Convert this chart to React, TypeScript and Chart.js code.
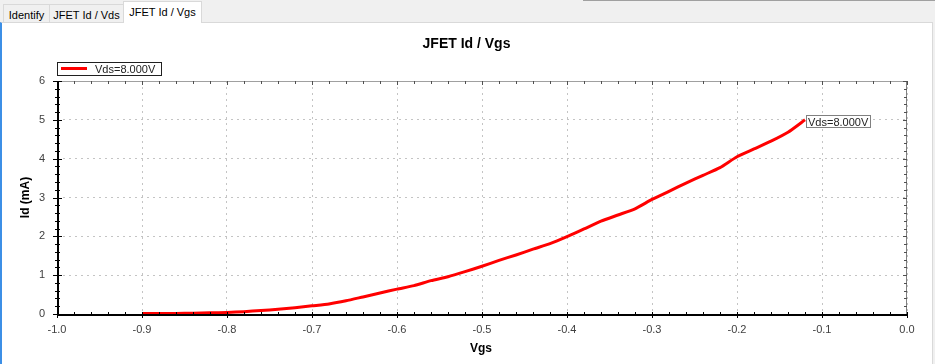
import React, { useEffect, useRef } from "react";
import { Chart, registerables } from "chart.js";

Chart.register(...registerables);

const CHART_TITLE = "JFET Id / Vgs";
const X_TITLE = "Vgs";
const Y_TITLE = "Id (mA)";
const SERIES_LABEL = "Vds=8.000V";
const TABS = ["Identify", "JFET Id / Vds", "JFET Id / Vgs"];

const X_MIN = -1.0;
const X_MAX = 0.0;
const X_STEP = 0.1;
const X_MINOR = 0.02;
const Y_MIN = 0;
const Y_MAX = 6;
const Y_STEP = 1;
const Y_MINOR = 0.2;

const VGS = [
  -0.9, -0.88, -0.86, -0.84, -0.82, -0.8, -0.78, -0.76, -0.74, -0.72, -0.7,
  -0.68, -0.66, -0.64, -0.62, -0.6, -0.58, -0.56, -0.54, -0.52, -0.5, -0.48,
  -0.46, -0.44, -0.42, -0.4, -0.38, -0.36, -0.34, -0.32, -0.3, -0.28, -0.26,
  -0.24, -0.22, -0.2, -0.18, -0.16, -0.14, -0.12,
];
const ID_MA = [
  0.01, 0.01, 0.015, 0.02, 0.03, 0.04, 0.06, 0.09, 0.12, 0.16, 0.21, 0.26,
  0.34, 0.44, 0.54, 0.64, 0.73, 0.86, 0.96, 1.09, 1.23, 1.38, 1.52, 1.67,
  1.81, 1.99, 2.19, 2.39, 2.55, 2.71, 2.95, 3.16, 3.37, 3.57, 3.77, 4.05,
  4.25, 4.45, 4.68, 5.0,
];

const FONT = '"Liberation Sans", Arial, sans-serif';

const framePlugin = {
  id: "framePlugin",
  afterDatasetsDraw(chart: any) {
    const { ctx, chartArea } = chart;
    const { left, right, top, bottom } = chartArea;
    const xs = chart.scales.x;
    const ys = chart.scales.y;
    ctx.save();
    ctx.lineWidth = 1;
    ctx.strokeStyle = "#a0a0a0";
    ctx.beginPath();
    ctx.moveTo(left, top + 0.5);
    ctx.lineTo(right, top + 0.5);
    ctx.stroke();
    ctx.strokeStyle = "#808080";
    ctx.beginPath();
    ctx.moveTo(right - 0.5, top);
    ctx.lineTo(right - 0.5, bottom + 2);
    ctx.stroke();

    const nx = Math.round((X_MAX - X_MIN) / X_MINOR);
    const ny = Math.round((Y_MAX - Y_MIN) / Y_MINOR);
    ctx.strokeStyle = "#505050";
    ctx.beginPath();
    for (let i = 0; i <= nx; i++) {
      const px = Math.round(xs.getPixelForValue(X_MIN + i * X_MINOR)) + 0.5;
      const len = i % 5 === 0 ? 4 : 3;
      ctx.moveTo(px, top);
      ctx.lineTo(px, top + len);
    }
    for (let i = 0; i <= ny; i++) {
      const py = Math.round(ys.getPixelForValue(Y_MIN + i * Y_MINOR)) + 0.5;
      const len = i % 5 === 0 ? 4 : 3;
      ctx.moveTo(right, py);
      ctx.lineTo(right - len, py);
    }
    ctx.stroke();

    ctx.strokeStyle = "#000";
    ctx.lineWidth = 2;
    ctx.beginPath();
    ctx.moveTo(left + 1, top);
    ctx.lineTo(left + 1, bottom + 2);
    ctx.moveTo(left, bottom + 1);
    ctx.lineTo(right, bottom + 1);
    ctx.stroke();
    ctx.lineWidth = 1;
    ctx.beginPath();
    for (let i = 0; i <= nx; i++) {
      const px = Math.round(xs.getPixelForValue(X_MIN + i * X_MINOR)) + 0.5;
      if (i % 5 === 0) {
        ctx.moveTo(px, bottom - 2);
        ctx.lineTo(px, bottom + 4);
      } else {
        ctx.moveTo(px, bottom - 2);
        ctx.lineTo(px, bottom + 1);
      }
    }
    for (let i = 0; i <= ny; i++) {
      const py = Math.round(ys.getPixelForValue(Y_MIN + i * Y_MINOR)) + 0.5;
      if (i % 5 === 0) {
        ctx.moveTo(left - 4, py);
        ctx.lineTo(left + 5, py);
      } else {
        ctx.moveTo(left - 2, py);
        ctx.lineTo(left + 3, py);
      }
    }
    ctx.stroke();
    ctx.restore();
  },
  afterDraw(chart: any) {
    const { ctx, chartArea, width } = chart;
    const { left, right, top, bottom } = chartArea;
    ctx.save();
    ctx.fillStyle = "#000";
    ctx.font = `bold 14px ${FONT}`;
    ctx.textAlign = "center";
    ctx.textBaseline = "alphabetic";
    ctx.fillText(CHART_TITLE, width / 2, top - 33);

    ctx.font = `bold 12px ${FONT}`;
    ctx.fillText(X_TITLE, (left + right) / 2 - 1, bottom + 38);
    ctx.save();
    ctx.translate(left - 31, (top + bottom) / 2);
    ctx.rotate(-Math.PI / 2);
    ctx.textBaseline = "middle";
    ctx.fillText(Y_TITLE, 0, 0);
    ctx.restore();

    ctx.font = `11px ${FONT}`;
    const tw = ctx.measureText(SERIES_LABEL).width;
    const lx = left;
    const ly = top - 19;
    const lw = Math.round(38 + tw + 6);
    ctx.fillStyle = "#fff";
    ctx.fillRect(lx, ly, lw, 13);
    ctx.strokeStyle = "#202020";
    ctx.lineWidth = 1;
    ctx.strokeRect(lx + 0.5, ly + 0.5, lw, 13);
    ctx.strokeStyle = "#ff0000";
    ctx.lineWidth = 3;
    ctx.beginPath();
    ctx.moveTo(lx + 4, ly + 6.5);
    ctx.lineTo(lx + 30, ly + 6.5);
    ctx.stroke();
    ctx.fillStyle = "#222";
    ctx.textAlign = "left";
    ctx.textBaseline = "alphabetic";
    ctx.fillText(SERIES_LABEL, lx + 38, ly + 11);

    const pts = chart.getDatasetMeta(0).data;
    const last = pts[pts.length - 1];
    const bx = Math.round(last.x) + 1;
    const by = Math.round(last.y) - 5;
    const bw = Math.round(tw + 4);
    ctx.fillStyle = "#fff";
    ctx.fillRect(bx, by, bw, 13);
    ctx.strokeStyle = "#808080";
    ctx.lineWidth = 1;
    ctx.strokeRect(bx + 0.5, by + 0.5, bw, 12);
    ctx.fillStyle = "#222";
    ctx.fillText(SERIES_LABEL, bx + 2, by + 10.5);
    ctx.restore();
  },
};

export default function App() {
  const ref = useRef<HTMLCanvasElement>(null);

  useEffect(() => {
    if (!ref.current) return;
    Chart.defaults.font.family = FONT;
    const chart = new Chart(ref.current, {
      type: "line",
      data: {
        datasets: [
          {
            label: SERIES_LABEL,
            data: VGS.map((v, i) => ({ x: v, y: ID_MA[i] })),
            borderColor: "#ff0000",
            backgroundColor: "#ff0000",
            borderWidth: 3,
            pointRadius: 0,
            tension: 0.2,
            fill: false,
          },
        ],
      },
      options: {
        responsive: false,
        animation: false,
        devicePixelRatio: 1,
        layout: { padding: { left: 0, right: 24, top: 58, bottom: 0 } },
        plugins: {
          legend: { display: false },
          title: { display: false },
          tooltip: { enabled: false },
        },
        scales: {
          x: {
            type: "linear",
            min: X_MIN,
            max: X_MAX,
            afterFit: (s: any) => {
              s.height = 50;
            },
            ticks: {
              stepSize: X_STEP,
              autoSkip: false,
              maxRotation: 0,
              padding: 9,
              color: "#404040",
              font: { size: 11, family: FONT },
              callback: (v: any) => {
                const n = Number(v);
                return (Math.abs(n) < 1e-9 ? 0 : n).toFixed(1);
              },
            },
            grid: { drawTicks: false, color: "#c4c4c4", lineWidth: 1 },
            border: { display: false, dash: [2, 4] },
          },
          y: {
            type: "linear",
            min: Y_MIN,
            max: Y_MAX,
            afterFit: (s: any) => {
              s.width = 55;
            },
            ticks: {
              stepSize: Y_STEP,
              padding: 12,
              color: "#404040",
              font: { size: 11, family: FONT },
            },
            grid: { drawTicks: false, color: "#c4c4c4", lineWidth: 1 },
            border: { display: false, dash: [2, 4] },
          },
        },
      },
      plugins: [framePlugin],
    } as any);
    return () => chart.destroy();
  }, []);

  const tabBase: React.CSSProperties = {
    position: "absolute",
    boxSizing: "border-box",
    border: "1px solid #d9d9d9",
    borderBottom: "none",
    fontSize: 11,
    lineHeight: "20px",
    textAlign: "center",
    color: "#000",
    whiteSpace: "nowrap",
  };

  return (
    <div
      style={{
        position: "absolute",
        left: 0,
        top: 0,
        width: 935,
        height: 364,
        background: "#f0f0f0",
        overflow: "hidden",
        fontFamily: FONT,
      }}
    >
      <div
        style={{
          position: "absolute",
          left: 583,
          top: 0,
          width: 352,
          height: 1,
          background: "#a0a0a0",
        }}
      />
      <div
        style={{
          position: "absolute",
          boxSizing: "border-box",
          left: 0,
          top: 22,
          width: 933,
          height: 343,
          background: "#fff",
          borderTop: "1px solid #d9d9d9",
          borderRight: "1px solid #d9d9d9",
          borderLeft: "2px solid #3c8fe6",
        }}
      />
      <div style={{ ...tabBase, left: 3, top: 4, width: 47, height: 18, background: "#f0f0f0" }}>
        {TABS[0]}
      </div>
      <div style={{ ...tabBase, left: 49, top: 4, width: 75, height: 18, background: "#f0f0f0" }}>
        {TABS[1]}
      </div>
      <div
        style={{
          ...tabBase,
          left: 123,
          top: 1,
          width: 79,
          height: 22,
          background: "#fff",
          zIndex: 2,
        }}
      >
        {TABS[2]}
      </div>
      <canvas
        ref={ref}
        width={929}
        height={341}
        style={{ position: "absolute", left: 2, top: 23, width: 929, height: 341 }}
      />
    </div>
  );
}
